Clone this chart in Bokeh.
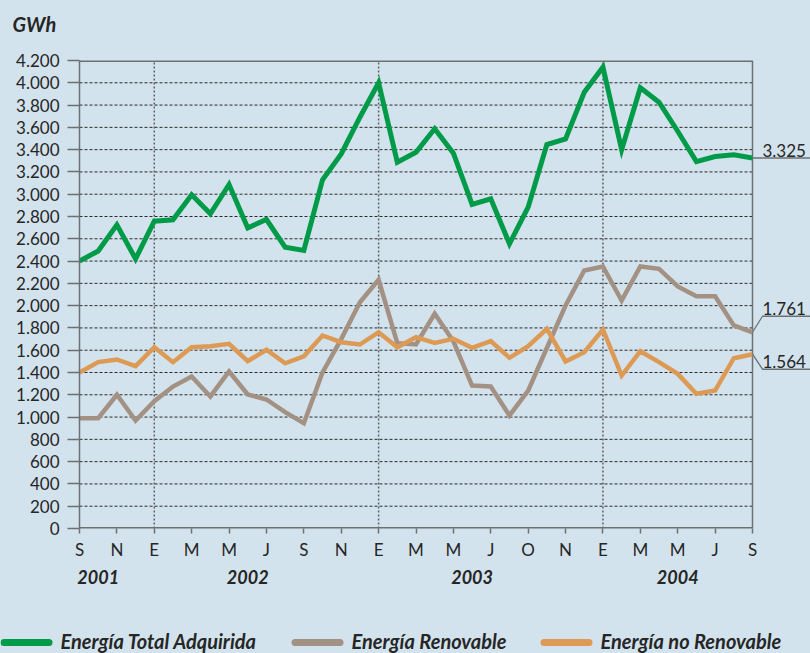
from bokeh.plotting import figure
from bokeh.layouts import column
from bokeh.models import Range1d, FixedTicker, LinearAxis, GlobalInlineStyleSheet
from bokeh.core.properties import value
from bokeh.embed import file_html
from bokeh.resources import INLINE

# ---------------- data ----------------
months = list(range(37))  # Sep 2001 .. Sep 2004
x_label_months = list(range(0, 37, 2))
x_labels = ["S", "N", "E", "M", "M", "J", "S", "N", "E", "M", "M", "J", "O", "N", "E", "M", "M", "J", "S"]
years = ["2001", "2002", "2003", "2004"]
year_months = [1, 9, 21, 32]
january_months = [4, 16, 28]
y_ticks = list(range(0, 4201, 200))

total = [2400, 2490, 2725, 2420, 2758, 2770, 2995, 2824, 3087, 2698, 2773, 2525,
         2495, 3130, 3362, 3691, 4000, 3287, 3377, 3587, 3368, 2908, 2959, 2555,
         2884, 3446, 3497, 3915, 4140, 3400, 3955, 3826, 3565, 3293, 3338, 3353, 3325]
renovable = [990, 990, 1200, 969, 1142, 1274, 1364, 1185, 1409, 1203, 1158, 1044,
             945, 1400, 1700, 2031, 2232, 1663, 1651, 1927, 1680, 1283, 1274, 1014,
             1238, 1620, 2001, 2315, 2351, 2046, 2351, 2330, 2172, 2085, 2085, 1822, 1761]
no_renovable = [1400, 1493, 1517, 1457, 1627, 1493, 1627, 1636, 1657, 1501, 1604, 1483,
                1546, 1732, 1672, 1651, 1762, 1627, 1717, 1666, 1702, 1621, 1681, 1532,
                1636, 1792, 1499, 1582, 1786, 1373, 1591, 1493, 1388, 1209, 1238, 1528, 1564]
series_names = ["Energía Total Adquirida", "Energía Renovable", "Energía no Renovable"]
unit_label = "GWh"

# ---------------- style ----------------
BG = "#D3E3ED"
COLORS = ["#009B48", "#A39283", "#DD9A55"]
AXIS = "#6D7073"
TEXT = "#262626"
FONT = "Lato"

W = 810
TOP_H, MAIN_H, LEG_H = 40, 586, 27
LEFT, TOP = 79, 20
FRAME_W, FRAME_H = 673, 468
last = months[-1]
ymax = y_ticks[-1]
px_month = FRAME_W / last
px_unit = FRAME_H / ymax
x_end = last + (W - LEFT - FRAME_W) / px_month


def strip(height):
    f = figure(width=W, height=height, x_range=Range1d(0, W), y_range=Range1d(0, height),
               output_backend="svg", toolbar_location=None, min_border=0,
               x_axis_type=None, y_axis_type=None,
               background_fill_color=BG, border_fill_color=BG, outline_line_color=None)
    f.xgrid.visible = False
    f.ygrid.visible = False
    f.frame_align = False
    return f


# unit label strip (y measured upward from the strip's bottom)
tf = strip(TOP_H)
tf.stylesheets = [GlobalInlineStyleSheet(css="body { background: %s; }" % BG)]
tf.text([12], [TOP_H - 23], text=[unit_label], text_font=value(FONT), text_font_size="20px",
        text_font_style="bold italic", text_color=TEXT, text_baseline="middle")

p = figure(width=W, height=MAIN_H, x_range=Range1d(0, x_end), y_range=Range1d(0, ymax),
           output_backend="svg", toolbar_location=None,
           min_border_left=LEFT, min_border_right=0, min_border_top=TOP,
           min_border_bottom=MAIN_H - TOP - FRAME_H,
           background_fill_color=BG, border_fill_color=BG, outline_line_color=None)
p.frame_align = False
p.xgrid.visible = False
p.ygrid.visible = False

# horizontal dashed grid
g = [t for t in y_ticks if 0 < t < ymax]
p.segment(x0=[0] * len(g), y0=g, x1=[last] * len(g), y1=g,
          line_color="#2b2b2b", line_width=1, line_dash="3 2")
# vertical dotted year separators
p.segment(x0=january_months, y0=[0] * 3, x1=january_months, y1=[ymax] * 3,
          line_color="#5f6366", line_width=1.5, line_dash="2 2")
# frame lines: top, right, bottom
p.segment(x0=[0, last, 0], y0=[ymax, 0, 0], x1=[last, last, last], y1=[ymax, ymax, 0],
          line_color=AXIS, line_width=[3, 1.5, 3])

# data lines
for ys, c, w in zip([total, renovable, no_renovable], COLORS, [5, 4.5, 4.5]):
    p.line(months, ys, line_color=c, line_width=w, line_join="miter")

# end labels with connectors
lab_vals = [total[-1], renovable[-1], no_renovable[-1]]
lab_shift_px = [0, 16, -15]
tx = last + 10 / px_month
for v, s in zip(lab_vals, lab_shift_px):
    yl = v + s / px_unit
    p.line([last, tx, x_end], [v, yl, yl], line_color=AXIS, line_width=1.3)
    p.text([tx], [yl], text=[f"{v:,}".replace(",", ".")], text_font=value(FONT),
           text_font_size="17px", text_color=TEXT, text_baseline="bottom",
           y_offset=-1)

# axes
ya = p.yaxis[0]
ya.ticker = FixedTicker(ticks=y_ticks)
ya.major_label_overrides = {t: f"{t:,}".replace(",", ".") for t in y_ticks}
ya.minor_tick_line_color = None
ya.major_tick_out = 12
ya.major_tick_in = 0
ya.major_tick_line_color = AXIS
ya.major_tick_line_width = 1.5
ya.axis_line_color = AXIS
ya.axis_line_width = 1.5
ya.major_label_standoff = 8
ya.major_label_text_font = FONT
ya.major_label_text_font_size = "17px"
ya.major_label_text_color = TEXT

xa = p.xaxis[0]
xa.ticker = FixedTicker(ticks=x_label_months)
xa.major_label_overrides = dict(zip(x_label_months, x_labels))
xa.minor_tick_line_color = None
xa.major_tick_out = 5
xa.major_tick_in = 0
xa.major_tick_line_color = AXIS
xa.major_tick_line_width = 1.5
xa.axis_line_color = None
xa.major_label_standoff = 5
xa.major_label_text_font = FONT
xa.major_label_text_font_size = "17px"
xa.major_label_text_color = TEXT

ya2 = LinearAxis(ticker=FixedTicker(ticks=year_months),
                 major_label_overrides=dict(zip(year_months, years)),
                 axis_line_color=None, major_tick_line_color=None, minor_tick_line_color=None,
                 major_label_standoff=1, major_label_text_font=FONT,
                 major_label_text_font_size="18px", major_label_text_font_style="bold italic",
                 major_label_text_color=TEXT)
p.add_layout(ya2, "below")

# legend strip drawn with glyphs (pixel coordinates of the strip, y upward)
lf = strip(LEG_H)
swatch_x = [0, 291, 540]
swatch_len, swatch_w, gap = 52, 7, 8
line_y, text_y = 11, 13
for name, c, x0 in zip(series_names, COLORS, swatch_x):
    lf.line([x0 + swatch_w / 2, x0 + swatch_len - swatch_w / 2], [line_y, line_y],
            line_color=c, line_width=swatch_w, line_cap="round")
    lf.text([x0 + swatch_len + gap], [text_y], text=[name], text_font=value(FONT),
            text_font_size="20px", text_font_style="bold italic", text_color=TEXT,
            text_baseline="middle", text_align="left")

layout = column(tf, p, lf, spacing=0)
open("out.html", "w").write(file_html(layout, INLINE))
